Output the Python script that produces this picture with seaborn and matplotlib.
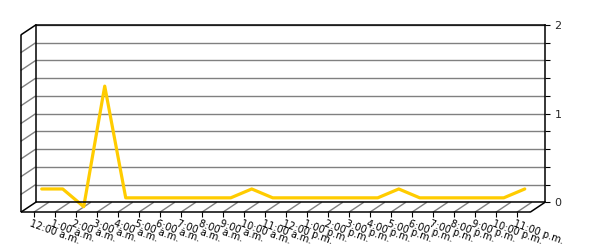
import numpy as np
import pandas as pd
import seaborn as sns
import matplotlib
matplotlib.use("Agg")
import matplotlib.pyplot as plt
from matplotlib import transforms
from matplotlib.lines import Line2D

# ---- data ----
hours = ["12:00 a.m.", "1:00 a.m.", "2:00 a.m.", "3:00 a.m.", "4:00 a.m.", "5:00 a.m.",
         "6:00 a.m.", "7:00 a.m.", "8:00 a.m.", "9:00 a.m.", "10:00 a.m.", "11:00 a.m.",
         "12:00 p.m.", "1:00 p.m.", "2:00 p.m.", "3:00 p.m.", "4:00 p.m.", "5:00 p.m.",
         "6:00 p.m.", "7:00 p.m.", "8:00 p.m.", "9:00 p.m.", "10:00 p.m.", "11:00 p.m."]
values = [0.2, 0.2, 0.0, 1.36, 0.1, 0.1, 0.1, 0.1, 0.1, 0.1, 0.2, 0.1,
          0.1, 0.1, 0.1, 0.1, 0.1, 0.2, 0.1, 0.1, 0.1, 0.1, 0.1, 0.2]
y_major = [0, 1, 2]
y_minor_step = 0.2

df = pd.DataFrame({"hour": hours, "value": values})
df["pos"] = np.arange(len(df))

sns.set_style("white")
plt.rcParams["font.family"] = ["DejaVu Sans"]

W, H = 600, 250
fig = plt.figure(figsize=(W / 100, H / 100), dpi=100)
fig.patch.set_facecolor("white")

# back wall axes
ax = fig.add_axes([35.7 / W, (H - 202.3) / H, (545 - 35.7) / W, (202.3 - 25) / H])
ax.set_facecolor("none")
ax.set_zorder(2)

# overlay for 3D floor / side wall (pixel coordinates, y down)
ov = fig.add_axes([0, 0, 1, 1])
ov.set_zorder(1)
ov.set_xlim(0, W)
ov.set_ylim(H, 0)
ov.axis("off")

GOLD = "#FFCC00"
GRID = "#808080"

x0, x1 = -0.62, len(hours) - 1 + 0.63
ax.set_xlim(x0, x1)
ax.set_ylim(0, 2)

# data line, drawn at mid-depth of the 3D box
line_tr = transforms.offset_copy(ax.transData, fig=fig, x=-7, y=-4.4, units="dots")
sns.lineplot(data=df, x="pos", y="value", ax=ax, color=GOLD, lw=2.3,
             transform=line_tr, clip_on=False, solid_joinstyle="round")
ax.set_xlim(x0, x1)
ax.set_ylim(0, 2)
ax.set_xlabel("")
ax.set_ylabel("")
ax.set_xticks([])

# y axis on the right
ax.yaxis.tick_right()
ax.set_yticks(y_major)
ax.set_yticklabels([str(v) for v in y_major])
minor = np.round(np.arange(0, 2 + 1e-9, y_minor_step), 2)
ax.set_yticks(minor, minor=True)
ax.tick_params(axis="y", which="both", direction="out", length=3.8, width=0.8,
               color="black", labelsize=8, pad=3, right=True, left=False)
ax.grid(axis="y", which="both", color=GRID, lw=1.0)
ax.grid(axis="x", visible=False)
for s in ax.spines.values():
    s.set_visible(True)
    s.set_color("black")
    s.set_linewidth(1.1)

# ---- 3D decorations ----
fig.canvas.draw()
def px(x, y):
    d = ax.transData.transform((x, y))
    return d[0], H - d[1]

DX, DY = -15, 10

def seg(p, q, color, lw):
    ov.add_line(Line2D([p[0], q[0]], [p[1], q[1]], color=color, lw=lw,
                       solid_capstyle="butt"))

BL = px(x0, 0); BR = px(x1, 0); TL = px(x0, 2)
fr = lambda p: (p[0] + DX, p[1] + DY)

# side wall grid
for yv in minor[1:-1]:
    p = px(x0, yv)
    seg(p, fr(p), GRID, 1.0)
# floor hatch at category centres + ticks + labels
for i, lab in enumerate(hours):
    p = px(i, 0)
    f = fr(p)
    seg(p, f, GRID, 1.0)
    seg(f, (f[0], f[1] + 4.5), "black", 0.8)
    ov.text(f[0] - 1.5, f[1] + 6.5, lab, rotation=-20, rotation_mode="anchor",
            ha="left", va="top", fontsize=7.0, color="black")

# box edges
seg(TL, fr(TL), "black", 1.1)
seg(fr(TL), fr(BL), "black", 1.1)
seg(BL, fr(BL), "black", 1.1)
seg(fr(BL), fr(BR), "black", 1.1)
seg(BR, fr(BR), "black", 1.1)

fig.savefig("out.png", dpi=100, facecolor="white")
